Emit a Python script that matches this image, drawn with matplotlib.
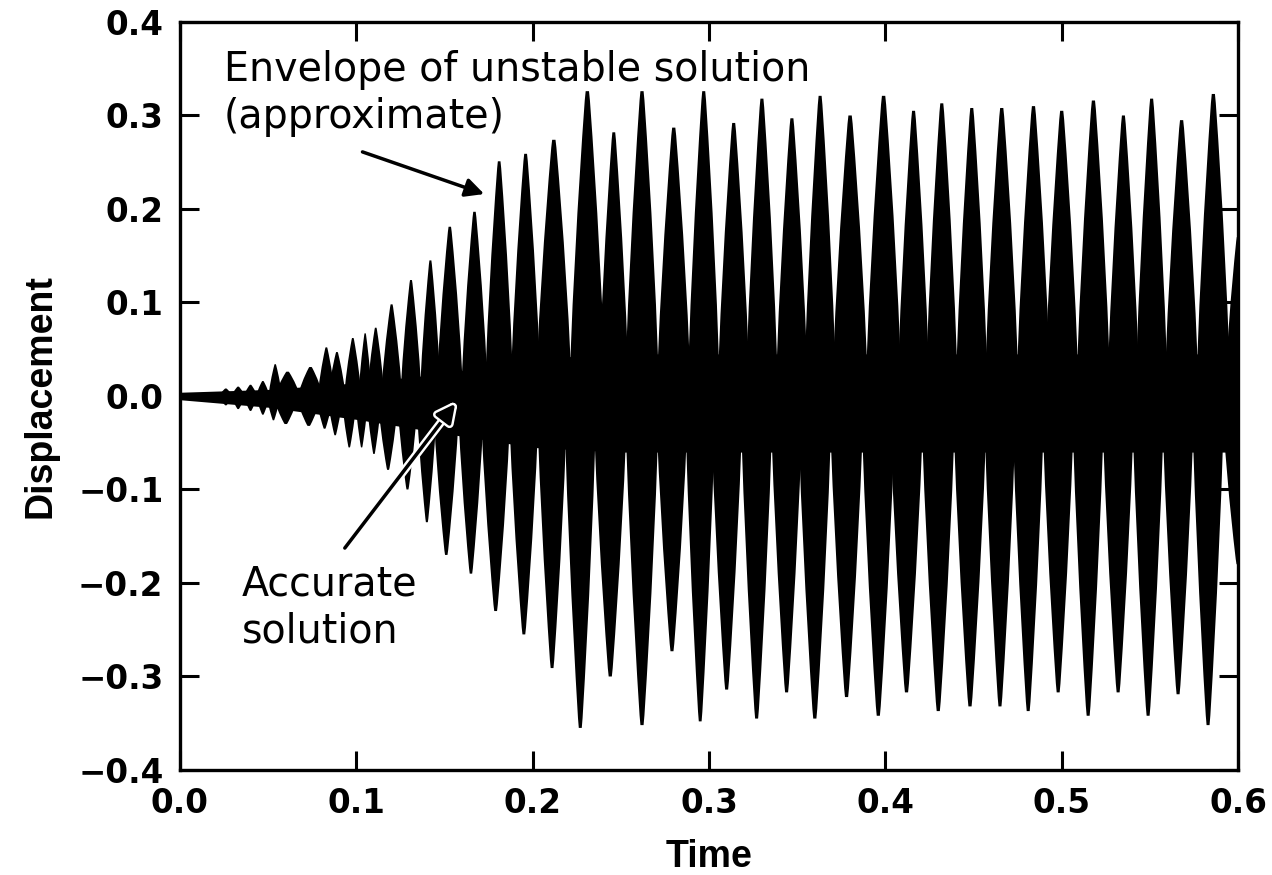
import numpy as np
import matplotlib.pyplot as plt
import matplotlib.patheffects as pe

# burst peaks (time, displacement)
upper_t = [0.026, 0.033, 0.040, 0.047, 0.054, 0.061, 0.074, 0.083, 0.089, 0.098,
           0.105, 0.111, 0.120, 0.131, 0.142, 0.153, 0.167, 0.181, 0.196, 0.212,
           0.231, 0.246, 0.262, 0.280, 0.297, 0.314, 0.330, 0.347, 0.363, 0.380,
           0.399, 0.416, 0.432, 0.449, 0.466, 0.484, 0.500, 0.518, 0.535, 0.551,
           0.568, 0.586, 0.600]
upper_v = [0.008, 0.010, 0.012, 0.016, 0.034, 0.026, 0.031, 0.052, 0.047, 0.062,
           0.067, 0.073, 0.098, 0.124, 0.145, 0.181, 0.197, 0.251, 0.259, 0.274,
           0.326, 0.282, 0.326, 0.287, 0.326, 0.292, 0.318, 0.297, 0.321, 0.300,
           0.321, 0.305, 0.313, 0.308, 0.308, 0.310, 0.305, 0.316, 0.300, 0.318,
           0.295, 0.323, 0.170]

lower_t = [0.026, 0.033, 0.040, 0.047, 0.053, 0.060, 0.073, 0.082, 0.088, 0.096,
           0.103, 0.110, 0.118, 0.129, 0.140, 0.151, 0.165, 0.179, 0.195, 0.211,
           0.227, 0.244, 0.262, 0.279, 0.295, 0.310, 0.327, 0.344, 0.360, 0.378,
           0.396, 0.412, 0.430, 0.448, 0.465, 0.481, 0.498, 0.515, 0.532, 0.549,
           0.566, 0.583, 0.600]
lower_v = [-0.010, -0.014, -0.016, -0.020, -0.026, -0.030, -0.032, -0.035, -0.042, -0.055,
           -0.055, -0.062, -0.079, -0.100, -0.135, -0.170, -0.190, -0.230, -0.255, -0.291,
           -0.355, -0.300, -0.352, -0.273, -0.348, -0.314, -0.345, -0.317, -0.345, -0.322,
           -0.342, -0.317, -0.337, -0.332, -0.332, -0.337, -0.317, -0.342, -0.317, -0.342,
           -0.319, -0.352, -0.180]

# dense band around zero
core_t = [0.0, 0.05, 0.10, 0.15, 0.20, 0.25, 0.30, 0.35, 0.40, 0.45, 0.50, 0.55, 0.60]
core_top = [0.004, 0.007, 0.014, 0.024, 0.040, 0.045, 0.045, 0.045, 0.045, 0.045, 0.045, 0.045, 0.045]
core_bot = [-0.004, -0.012, -0.025, -0.040, -0.055, -0.060, -0.060, -0.060, -0.060, -0.060, -0.060, -0.060, -0.060]

x_ticks = [0.0, 0.1, 0.2, 0.3, 0.4, 0.5, 0.6]
y_ticks = [-0.4, -0.3, -0.2, -0.1, 0.0, 0.1, 0.2, 0.3, 0.4]

# spindle profile of one burst (fraction of height, fraction of half width)
prof_h = np.array([0.0, 0.3, 0.6, 0.85, 0.97, 1.0])
prof_w = np.array([1.0, 0.8, 0.54, 0.28, 0.14, 0.09])


def drawBursts(ax, times, peaks):
    times = np.asarray(times)
    gaps = np.diff(times)
    for i, (t, v) in enumerate(zip(times, peaks)):
        left = gaps[i - 1] if i > 0 else gaps[0]
        right = gaps[i] if i < len(gaps) else gaps[-1]
        hw = 0.55 * max(left, right)
        xs = np.concatenate([t - hw * prof_w, (t + hw * prof_w)[::-1]])
        ys = np.concatenate([v * prof_h, (v * prof_h)[::-1]])
        ax.fill(xs, ys, color="black", lw=0)


fig = plt.figure(figsize=(12.72, 8.75), dpi=100)
ax = fig.add_axes([0.1415, 0.12, 0.8318, 0.8549])

ax.fill_between(core_t, core_bot, core_top, color="black", lw=0)
drawBursts(ax, upper_t, upper_v)
drawBursts(ax, lower_t, lower_v)

ax.set_xlim(0, 0.6)
ax.set_ylim(-0.4, 0.4)
ax.set_xticks(x_ticks)
ax.set_yticks(y_ticks)
ax.set_xticklabels([f"{v:.1f}" for v in x_ticks])
ax.set_yticklabels([f"{v:.1f}".replace("-", "\u2212") for v in y_ticks])

for s in ax.spines.values():
    s.set_linewidth(2.4)
ax.tick_params(which="both", direction="in", top=True, right=True,
               length=14, width=2.2, pad=12)
for lab in ax.get_xticklabels() + ax.get_yticklabels():
    lab.set_fontfamily("DejaVu Sans")
    lab.set_fontweight("bold")
    lab.set_fontsize(23.5)

ax.set_xlabel("Time", fontsize=27, fontweight="bold", family="Liberation Sans", labelpad=14)
ax.set_ylabel("Displacement", fontsize=27, fontweight="bold", family="Liberation Sans", labelpad=14)

txt = dict(fontsize=28.5, family="DejaVu Sans", ha="left", va="baseline")
ax.text(0.025, 0.337, "Envelope of unstable solution", **txt)
ax.text(0.025, 0.287, "(approximate)", **txt)
ax.annotate("", xy=(0.174, 0.215), xytext=(0.102, 0.262),
            arrowprops=dict(arrowstyle="-|>", lw=2.5, color="black", mutation_scale=28))

ax.text(0.035, -0.213, "Accurate", **txt)
ax.text(0.035, -0.264, "solution", **txt)
ax.annotate("", xy=(0.157, -0.006), xytext=(0.0925, -0.165),
            arrowprops=dict(arrowstyle="-|>", lw=2.5, color="black", mutation_scale=28,
                            path_effects=[pe.withStroke(linewidth=6, foreground="white")]))

fig.savefig("out.png", dpi=100)
